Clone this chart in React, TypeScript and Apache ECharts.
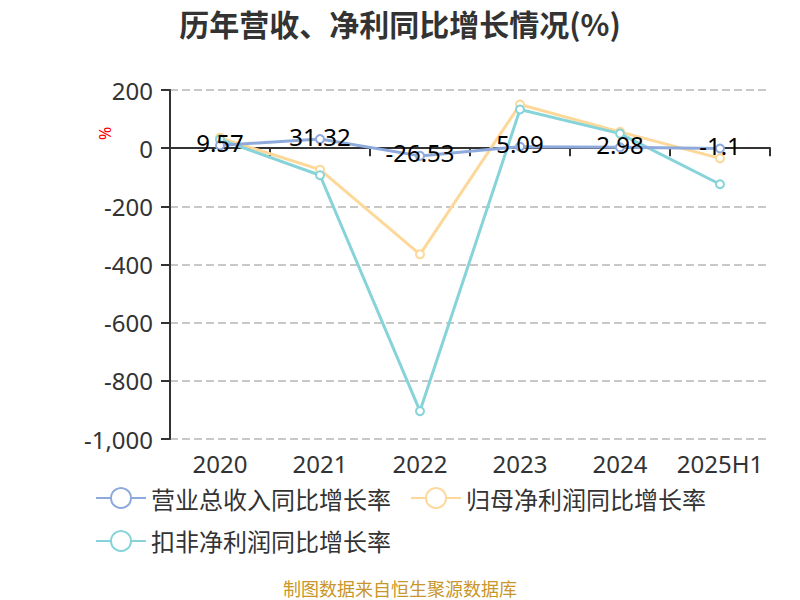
import React, { useEffect, useRef } from "react";
import * as echarts from "echarts";

const categories = ["2020", "2021", "2022", "2023", "2024", "2025H1"];
const revenueGrowth = [9.57, 31.32, -26.53, 5.09, 2.98, -1.1];
const netProfitGrowth = [36, -74, -365, 150, 56, -35];
const deductedProfitGrowth = [30, -93, -904, 133, 50, -124];
const seriesNames = ["营业总收入同比增长率", "归母净利润同比增长率", "扣非净利润同比增长率"];
const colors = ["#8eaadc", "#fdd899", "#86d4d9"];

export default function App() {
  const ref = useRef<HTMLDivElement>(null);
  useEffect(() => {
    document.body.style.margin = "0";
    if (!ref.current) return;
    const chart = echarts.init(ref.current, undefined, { renderer: "svg" });
    const lineSeries = (idx: number, data: number[], withLabel: boolean) => ({
      name: seriesNames[idx],
      type: "line",
      xAxisIndex: 0,
      data,
      symbol: "emptyCircle",
      symbolSize: 8,
      z: withLabel ? 5 : 3,
      lineStyle: { width: 3, color: colors[idx] },
      itemStyle: { color: colors[idx], borderWidth: 2 },
      label: withLabel
        ? { show: true, position: "inside", offset: [0, -3], fontSize: 24, color: "#000", fontFamily: "Noto Sans" }
        : { show: false },
    });
    chart.setOption({
      animation: false,
      color: colors,
      textStyle: { fontFamily: "Noto Sans, Noto Sans CJK SC" },
      title: {
        text: "历年营收、净利同比增长情况(%)",
        left: "center",
        top: 3,
        textStyle: { fontSize: 30, fontWeight: "bold", color: "#333", fontFamily: "Noto Sans CJK SC" },
      },
      grid: { left: 170, right: 30, top: 90, bottom: 161 },
      legend: {
        data: seriesNames,
        left: 90,
        right: 60,
        top: 481,
        itemWidth: 50,
        itemHeight: 25,
        itemGap: 19,
        textStyle: { fontSize: 24, color: "#333", fontFamily: "Noto Sans CJK SC" },
      },
      xAxis: [
        {
          type: "category",
          data: categories,
          position: "bottom",
          axisLine: { onZero: true, lineStyle: { color: "#333", width: 2 } },
          axisTick: { show: true, length: 8, alignWithLabel: false, lineStyle: { color: "#333", width: 2 } },
          axisLabel: { show: false },
          splitLine: { show: false },
        },
        {
          type: "category",
          data: categories,
          position: "bottom",
          axisLine: { show: false, onZero: false },
          axisTick: { show: false },
          axisLabel: { show: true, interval: 0, fontSize: 24, color: "#333", margin: 12 },
          splitLine: { show: false },
        },
      ],
      yAxis: {
        type: "value",
        min: -1000,
        max: 200,
        interval: 200,
        axisLine: { show: true, lineStyle: { color: "#333", width: 2 } },
        axisTick: { show: true, length: 9, lineStyle: { color: "#333", width: 2 } },
        axisLabel: { fontSize: 24, color: "#333", margin: 17 },
        splitLine: { show: true, lineStyle: { type: "dashed", color: "#c8c8c8", width: 2 } },
      },
      graphic: [
        {
          type: "text",
          x: 97,
          y: 140,
          rotation: Math.PI / 2,
          style: { text: "%", fontSize: 16, fill: "#ff0000", fontFamily: "Noto Sans" },
        },
        {
          type: "text",
          left: "center",
          top: 579,
          style: { text: "制图数据来自恒生聚源数据库", fontSize: 18, fill: "#c9962b", fontFamily: "Noto Sans CJK SC" },
        },
      ],
      series: [
        lineSeries(1, netProfitGrowth, false),
        lineSeries(2, deductedProfitGrowth, false),
        lineSeries(0, revenueGrowth, true),
      ],
    });
    return () => chart.dispose();
  }, []);
  return <div ref={ref} style={{ width: 800, height: 600 }} />;
}
